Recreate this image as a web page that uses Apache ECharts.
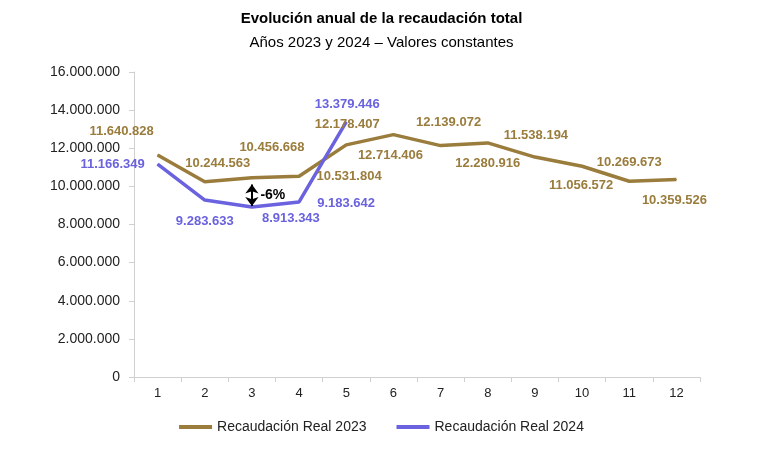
<!DOCTYPE html>
<html><head><meta charset="utf-8">
<script src="https://cdn.jsdelivr.net/npm/echarts@6/dist/echarts.min.js"></script>
<style>html,body{margin:0;padding:0;background:#fff}#c{width:763px;height:450px}</style>
</head><body><div id="c"></div>
<script>
const months = ['1','2','3','4','5','6','7','8','9','10','11','12'];
const real2023 = [11640828,10244563,10456668,10531804,12178407,12714406,12139072,12280916,11538194,11056572,10269673,10359526];
const real2024 = [11166349,9283633,8913343,9183642,13379446];
const seriesNames = ['Recaudación Real 2023','Recaudación Real 2024'];
const yTicks = [0,2000000,4000000,6000000,8000000,10000000,12000000,14000000,16000000];
const annotationText = '-6%';
const annotationRange = [10100000, 8970000];
const annotationMonth = '3';

const gold = '#9A7C3C', blue = '#6A62DE';
const fmt = v => String(v).replace(/\B(?=(\d{3})+(?!\d))/g, '.');
// label offsets (px) relative to each point
const off2023 = [[-36,-24],[13,-18],[20,-30],[50,0],[1,-20],[-3,21],[8,-23],[0,21],[1,-22],[-1,19],[0,-19],[-2,21]];
const off2024 = [[-45,0],[0,21],[39,11],[47,1],[1,-18]];
const mk = (vals, offs) => vals.map((v,i)=>({value:v,label:{offset:offs[i]}}));
const lbl = c => ({show:true,position:'inside',color:c,fontFamily:'Liberation Sans',fontWeight:'bold',fontSize:13,formatter:p=>fmt(p.value)});

const chart = echarts.init(document.getElementById('c'));
chart.setOption({
  animation:false,
  title:{text:'Evolución anual de la recaudación total',subtext:'Años 2023 y 2024 – Valores constantes',left:'center',top:6,itemGap:9,
    textStyle:{fontFamily:'Liberation Sans',fontWeight:'bold',fontSize:15,color:'#000'},
    subtextStyle:{fontFamily:'Liberation Sans',fontSize:15,color:'#000'}},
  legend:{bottom:11,left:'center',itemWidth:33,itemHeight:4,icon:'rect',itemGap:30,itemStyle:{},
    textStyle:{fontFamily:'Liberation Sans',fontSize:14,color:'#222'},data:seriesNames},
  grid:{left:134,right:63,top:72,bottom:73},
  xAxis:{type:'category',data:months,boundaryGap:true,
    axisLine:{lineStyle:{color:'#d0d0d0'}},axisTick:{show:true,length:5,lineStyle:{color:'#d0d0d0'}},
    axisLabel:{margin:10,fontFamily:'Liberation Sans',fontSize:13,color:'#222'}},
  yAxis:{type:'value',min:0,max:16000000,interval:2000000,
    splitLine:{show:false},axisLine:{show:true,lineStyle:{color:'#d0d0d0'}},axisTick:{show:true,length:5,lineStyle:{color:'#d0d0d0'}},
    axisLabel:{margin:14,fontFamily:'Liberation Sans',fontSize:14,color:'#222',formatter:v=>yTicks.includes(v)?fmt(v):''}},
  series:[
    {name:seriesNames[0],type:'line',data:mk(real2023,off2023),symbol:'circle',symbolSize:1,
      lineStyle:{color:gold,width:3.5},itemStyle:{color:gold},label:lbl(gold)},
    {name:seriesNames[1],type:'line',data:mk(real2024,off2024),symbol:'circle',symbolSize:1,
      lineStyle:{color:blue,width:3.5},itemStyle:{color:blue},label:lbl(blue),
      markLine:{silent:true,symbol:['arrow','arrow'],symbolSize:[10,9],
        lineStyle:{color:'#000',width:2,type:'solid'},label:{show:false},
        data:[[{coord:[annotationMonth,annotationRange[0]]},{coord:[annotationMonth,annotationRange[1]]}]]},
      markPoint:{symbol:'circle',symbolSize:1,itemStyle:{color:'rgba(0,0,0,0)'},
        label:{show:true,position:'right',distance:8,formatter:annotationText,color:'#000',fontFamily:'Liberation Sans',fontWeight:'bold',fontSize:14},
        data:[{coord:[annotationMonth,(annotationRange[0]+annotationRange[1])/2]}]}}
  ]
});
</script></body></html>
